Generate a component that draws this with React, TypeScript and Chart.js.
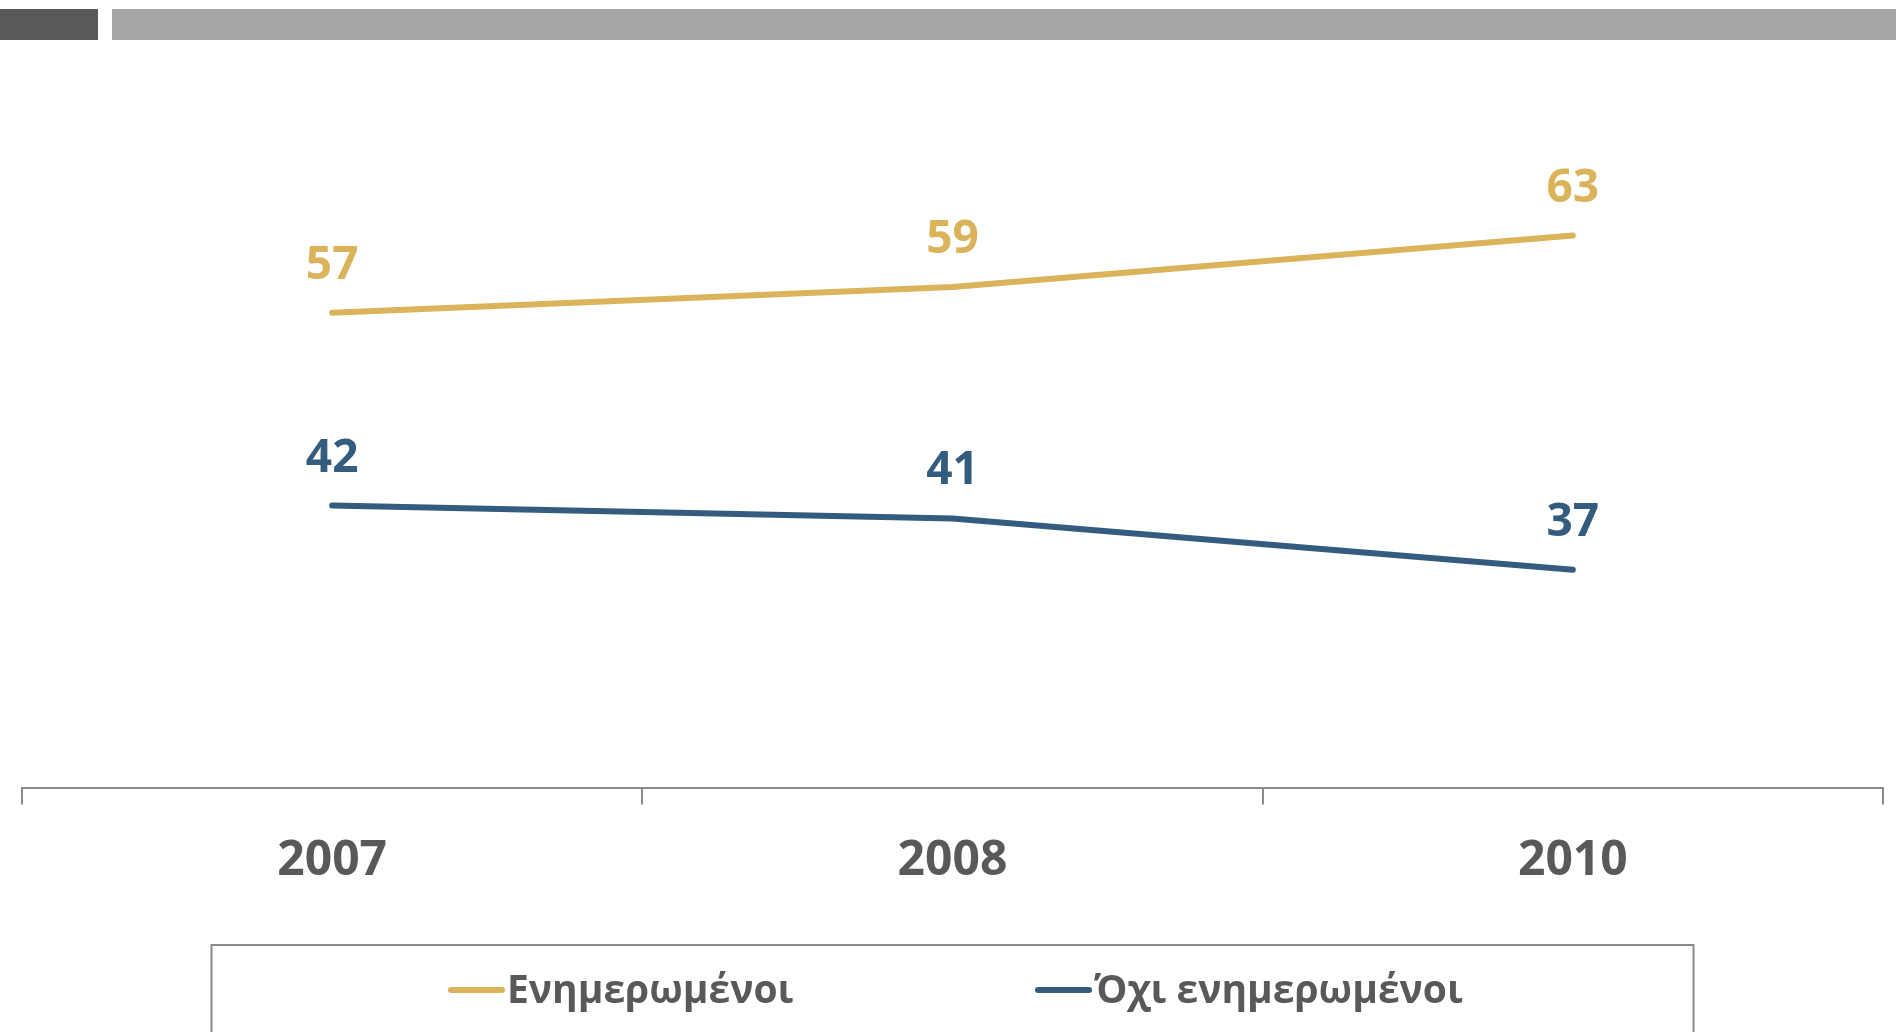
import React, { useEffect, useRef } from 'react';
import { Chart, registerables } from 'chart.js';

Chart.register(...registerables);

// ---- data ----
const years = ['2007', '2008', '2010'];
const informed = [57, 59, 63];
const notInformed = [42, 41, 37];
const seriesNames = ['Ενημερωμένοι', 'Όχι ενημερωμένοι'];
const seriesColors = ['#DBB35B', '#345C7E'];
const yMin = 20;
const yMax = 80;

const FONT = "'Open Sans', 'Noto Sans', sans-serif";
const TEXT_GRAY = '#595959';
const AXIS_GRAY = '#8A8A8A';

const valueLabels = {
  id: 'valueLabels',
  afterDatasetsDraw(chart: any) {
    const ctx = chart.ctx;
    ctx.save();
    ctx.font = `bold 46px ${FONT}`;
    ctx.textAlign = 'center';
    ctx.textBaseline = 'alphabetic';
    chart.data.datasets.forEach((ds: any, i: number) => {
      const meta = chart.getDatasetMeta(i);
      ctx.fillStyle = ds.borderColor;
      meta.data.forEach((pt: any, j: number) => {
        ctx.fillText(String(ds.data[j]), pt.x, pt.y - 34);
      });
    });
    ctx.restore();
  },
};

const boxedLegend = {
  id: 'boxedLegend',
  afterDraw(chart: any) {
    const { ctx, chartArea } = chart;
    const H = chart.height;
    const cx = (chartArea.left + chartArea.right) / 2;
    ctx.save();
    ctx.strokeStyle = AXIS_GRAY;
    ctx.lineWidth = 2;
    ctx.strokeRect(cx - 741, H - 87, 1482, 200);
    const lineY = H - 42;
    const textY = H - 29;
    ctx.font = `bold 39px ${FONT}`;
    ctx.textAlign = 'left';
    ctx.textBaseline = 'alphabetic';
    chart.data.datasets.forEach((ds: any, i: number) => {
      const start = cx - 504.5 + i * 587;
      ctx.strokeStyle = ds.borderColor;
      ctx.lineWidth = 6;
      ctx.lineCap = 'round';
      ctx.beginPath();
      ctx.moveTo(start + 3, lineY);
      ctx.lineTo(start + 54, lineY);
      ctx.stroke();
      ctx.fillStyle = TEXT_GRAY;
      ctx.fillText(ds.label, start + 59, textY);
    });
    ctx.restore();
  },
};

export default function App() {
  const canvasRef = useRef<HTMLCanvasElement | null>(null);

  useEffect(() => {
    if (!canvasRef.current) return;
    const chart = new Chart(canvasRef.current, {
      type: 'line',
      data: {
        labels: years,
        datasets: [
          {
            label: seriesNames[0],
            data: informed,
            borderColor: seriesColors[0],
            backgroundColor: seriesColors[0],
            borderWidth: 6,
            borderCapStyle: 'round',
            borderJoinStyle: 'round',
            pointRadius: 0,
            tension: 0,
            fill: false,
          },
          {
            label: seriesNames[1],
            data: notInformed,
            borderColor: seriesColors[1],
            backgroundColor: seriesColors[1],
            borderWidth: 6,
            borderCapStyle: 'round',
            borderJoinStyle: 'round',
            pointRadius: 0,
            tension: 0,
            fill: false,
          },
        ],
      },
      options: {
        responsive: false,
        animation: false,
        layout: { padding: { left: 22, right: 13, top: 17, bottom: 114 } },
        plugins: {
          legend: { display: false },
          tooltip: { enabled: false },
        },
        scales: {
          x: {
            offset: true,
            grid: {
              offset: true,
              drawOnChartArea: false,
              drawTicks: true,
              tickLength: 16,
              color: AXIS_GRAY,
              lineWidth: 2,
            },
            border: { display: true, color: AXIS_GRAY, width: 2 },
            ticks: {
              font: { family: FONT, size: 48, weight: 'bold' },
              color: TEXT_GRAY,
              padding: 28,
              maxRotation: 0,
              autoSkip: false,
            },
          },
          y: { display: false, min: yMin, max: yMax },
        },
      },
      plugins: [valueLabels, boxedLegend],
    } as any);
    return () => chart.destroy();
  }, []);

  return (
    <div
      style={{
        position: 'fixed',
        left: 0,
        top: 0,
        width: 1896,
        height: 1032,
        overflow: 'hidden',
        background: '#ffffff',
      }}
    >
      <div style={{ position: 'absolute', left: 0, top: 9, width: 98, height: 31, background: '#595959' }} />
      <div style={{ position: 'absolute', left: 112, top: 9, right: 0, height: 31, background: '#A6A6A6' }} />
      <canvas
        ref={canvasRef}
        width={1896}
        height={1032}
        style={{ position: 'absolute', left: 0, top: 0, display: 'block' }}
      />
    </div>
  );
}
